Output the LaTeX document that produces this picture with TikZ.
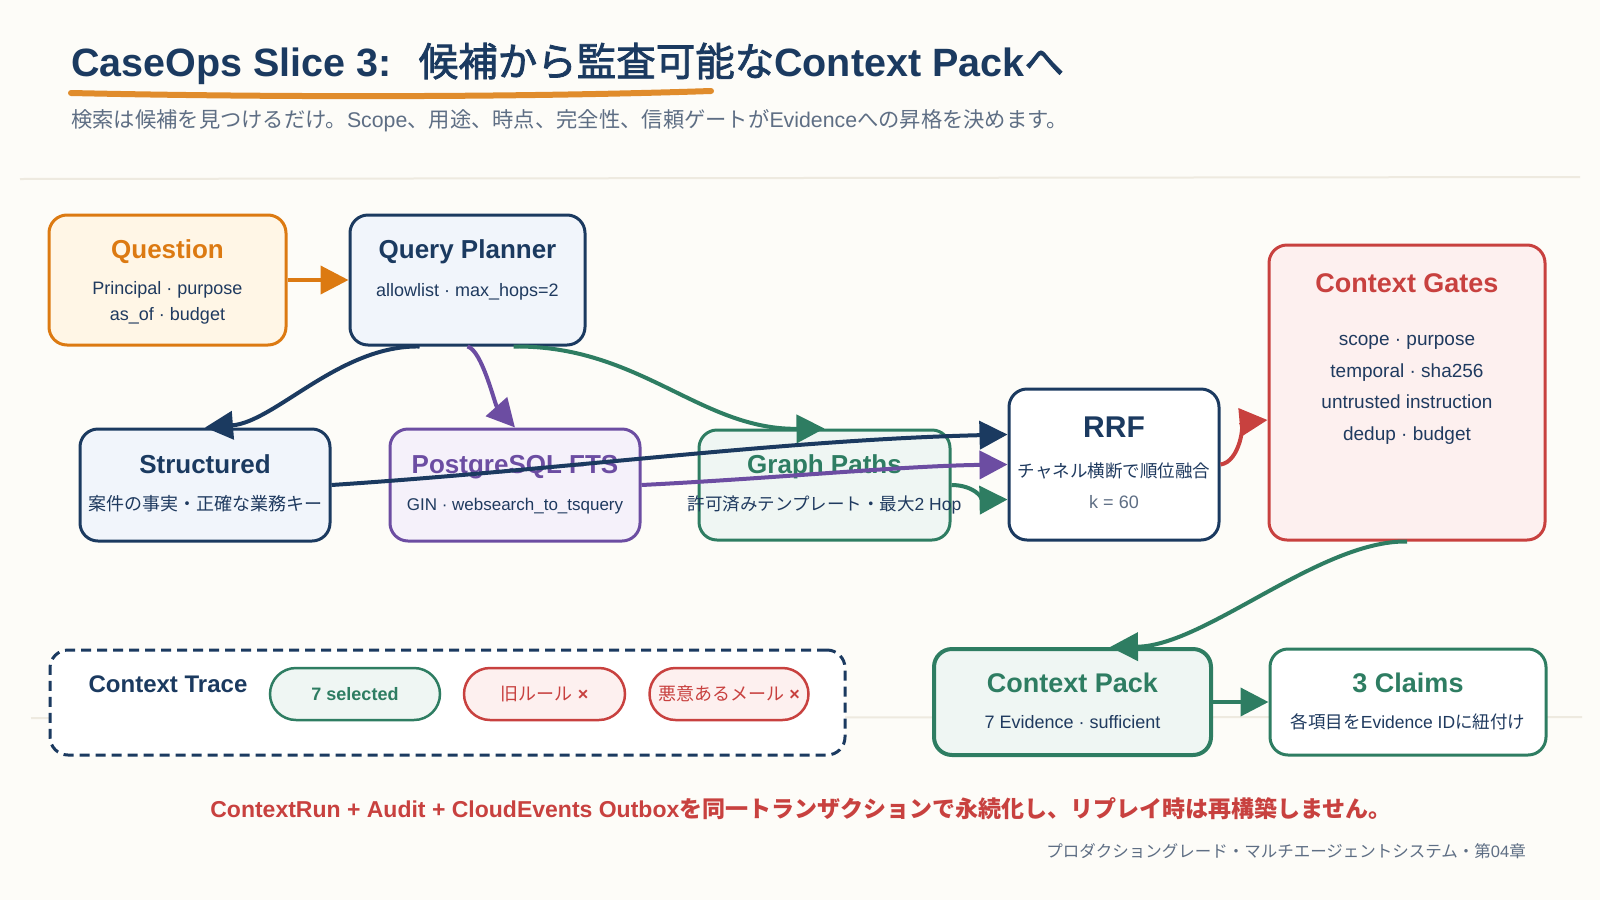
\documentclass[tikz,border=0pt]{standalone}
\usepackage{fontspec}
\setmainfont{Liberation Sans}
\newfontfamily\jp{Noto Sans CJK JP}
\newfontfamily\jpt[FakeBold=2]{Noto Sans CJK JP}
\newcommand\J[1]{{\jp #1}}
\newcommand\JT[1]{{\jpt\mdseries #1}}
\usetikzlibrary{arrows.meta,calc}
\definecolor{bg}{HTML}{FDFCF8}
\definecolor{navy}{HTML}{1B3A60}
\definecolor{ink}{HTML}{1F3A5F}
\definecolor{grayt}{HTML}{5E6E84}
\definecolor{orng}{HTML}{DC7A12}
\definecolor{orngbg}{HTML}{FFF6E6}
\definecolor{uline}{HTML}{E08C2C}
\definecolor{navybg}{HTML}{F1F5FB}
\definecolor{purp}{HTML}{6C4DA2}
\definecolor{purpbg}{HTML}{F5F1FA}
\definecolor{grn}{HTML}{2E7D62}
\definecolor{grnbg}{HTML}{EFF6F3}
\definecolor{red}{HTML}{C8413F}
\definecolor{redbg}{HTML}{FDF0EF}
\definecolor{rule}{HTML}{EEEAE0}
\begin{document}
\begin{tikzpicture}[x=1pt,y=-1pt,
  box/.style={rounded corners=18pt,line width=3pt,inner sep=0pt},
  pill/.style={rounded corners=26pt,line width=2.5pt,inner sep=0pt,minimum height=52pt},
  ttl/.style={font=\fontsize{26}{30}\selectfont\bfseries,anchor=base},
  subt/.style={font=\fontsize{18}{22}\selectfont,text=ink,anchor=base},
  gate/.style={font=\fontsize{19}{23}\selectfont,text=ink,anchor=base},
  arr/.style={line width=4pt,-{Triangle[length=28pt,width=28pt]}}]
\useasboundingbox (0,0) rectangle (1600,900);
\fill[bg] (0,0) rectangle (1600,900);
% rules
\draw[rule,line width=2pt] (20,179) -- (1580,177);
\draw[rule,line width=2pt] (31,718) -- (1582,717);
% title
\node[anchor=base west,inner sep=0pt,text=navy,font=\fontsize{39.5}{44}\selectfont\bfseries] (title) at (71,76)
  {CaseOps Slice 3:\hspace{27pt}\JT{候補から監査可能な}Context Pack\JT{へ}};
\draw[uline,line width=6pt,line cap=round] (71,93) .. controls (250,97) and (500,98) .. (711,91);
\node[anchor=base west,inner sep=0pt,text=grayt,font=\fontsize{21.3}{25}\selectfont] (subtitle) at (71,127)
  {\J{検索は候補を見つけるだけ。}Scope\J{、用途、時点、完全性、信頼ゲートが}Evidence\J{への昇格を決めます。}};
% boxes
\node[box,draw=orng,fill=orngbg,minimum width=237pt,minimum height=130pt] (q) at (167.5,280) {};
\node[box,draw=navy,fill=navybg,minimum width=235pt,minimum height=130pt] (qp) at (467.5,280) {};
\node[box,draw=navy,fill=navybg,minimum width=250pt,minimum height=112pt] (st) at (205,485) {};
\node[box,draw=purp,fill=purpbg,minimum width=250pt,minimum height=112pt] (fts) at (515,485) {};
\node[box,draw=grn,fill=grnbg,minimum width=251pt,minimum height=110pt] (gp) at (824.5,485) {};
\node[box,draw=navy,fill=white,minimum width=210pt,minimum height=151pt] (rrf) at (1114,464.5) {};
\node[box,draw=red,fill=redbg,minimum width=276pt,minimum height=295pt] (gates) at (1407,392.5) {};
\node[box,draw=grn,fill=grnbg,line width=4pt,minimum width=277pt,minimum height=106pt] (pack) at (1072.5,702) {};
\node[box,draw=grn,fill=white,minimum width=276pt,minimum height=106pt] (claims) at (1408,702) {};
\node[box,draw=navy,fill=white,dashed,dash pattern=on 10pt off 6pt,minimum width=795pt,minimum height=105pt] (trace) at (447.5,702.5) {};
% texts
\node[ttl,text=orng] (qt) at (167.5,258) {Question};
\node[subt] (qs1) at (167.5,294) {Principal · purpose};
\node[subt] (qs2) at (167.5,320) {as\_of · budget};
\node[ttl,text=navy] (qpt) at (467.5,258) {Query Planner};
\node[subt] (qps) at (467.5,296) {allowlist · max\_hops=2};
\node[ttl,text=navy] (stt) at (205,473) {Structured};
\node[subt] (sts) at (205,510) {\J{案件の事実・正確な業務キー}};
\node[ttl,text=purp] (ftst) at (515,473) {PostgreSQL FTS};
\node[subt,font=\fontsize{17}{21}\selectfont] (ftss) at (515,510) {GIN · websearch\_to\_tsquery};
\node[ttl,text=grn] (gpt) at (824.5,473) {Graph Paths};
\node[subt,font=\fontsize{17.5}{21}\selectfont] (gps) at (824.5,510) {\J{許可済みテンプレート・最大}2 Hop};
\node[ttl,text=navy,font=\fontsize{30}{34}\selectfont\bfseries] (rrft) at (1114,437) {RRF};
\node[subt,font=\fontsize{17.5}{21}\selectfont] (rrfs) at (1114,477) {\J{チャネル横断で順位融合}};
\node[subt,text=grayt] (rrfk) at (1114,508) {k = 60};
\node[ttl,text=red,font=\fontsize{27}{31}\selectfont\bfseries] (gt) at (1407,292) {Context Gates};
\node[gate] (g1) at (1407,345) {scope · purpose};
\node[gate] (g2) at (1407,377) {temporal · sha256};
\node[gate] (g3) at (1407,408) {untrusted instruction};
\node[gate] (g4) at (1407,440) {dedup · budget};
\node[ttl,text=grn,font=\fontsize{27}{31}\selectfont\bfseries] (pt) at (1072.5,692) {Context Pack};
\node[subt] (ps) at (1072.5,728) {7 Evidence · sufficient};
\node[ttl,text=grn,font=\fontsize{27}{31}\selectfont\bfseries] (ct) at (1408,692) {3 Claims};
\node[subt,font=\fontsize{17.5}{21}\selectfont] (cs) at (1408,728) {\J{各項目を}Evidence ID\J{に紐付け}};
\node[ttl,text=navy,font=\fontsize{24}{28}\selectfont\bfseries] (trt) at (168,692) {Context Trace};
\node[pill,draw=grn,fill=grnbg,minimum width=170pt,text=grn,font=\fontsize{18}{22}\selectfont\bfseries] (p1) at (355,694) {7 selected};
\node[pill,draw=red,fill=redbg,minimum width=161pt,text=red,font=\fontsize{18}{22}\selectfont] (p2) at (544.5,694) {\J{旧ルール} \textbf{×}};
\node[pill,draw=red,fill=redbg,minimum width=159pt,text=red,font=\fontsize{18}{22}\selectfont] (p3) at (729,694) {\J{悪意あるメール} \textbf{×}};
% bottom texts
\node[anchor=base,inner sep=0pt,text=red,font=\fontsize{23}{27}\selectfont\bfseries] (note) at (801,817)
  {ContextRun + Audit + CloudEvents Outbox\J{を同一トランザクションで永続化し、リプレイ時は再構築しません。}};
\node[anchor=base east,inner sep=0pt,text=grayt,font=\fontsize{16.5}{20}\selectfont] (foot) at (1526,857)
  {\J{プロダクショングレード・マルチエージェントシステム・第}04\J{章}};
% connectors
\draw[arr,orng] (q.east) -- (qp.west);
\draw[arr,navy] ($(qp.south)+(-48,0)$) .. controls (340,345) and (275,422) .. (st.north);
\draw[arr,purp] (qp.south) .. controls (482,350) and (495,405) .. (fts.north);
\draw[arr,grn] ($(qp.south)+(46,0)$) .. controls (640,345) and (700,430) .. (gp.north);
\draw[arr,navy] (st.east) .. controls (560,470) and (780,440) .. ($(rrf.west)+(0,-30)$);
\draw[arr,purp] (fts.east) .. controls (780,478) and (900,466) .. (rrf.west);
\draw[arr,grn] (gp.east) .. controls (975,485) and (985,500) .. ($(rrf.west)+(0,35)$);
\draw[arr,red] (rrf.east) .. controls (1240,462) and (1245,422) .. ($(gates.west)+(0,27.5)$);
\draw[arr,grn] (gates.south) .. controls (1320,540) and (1205,646) .. ($(pack.north)+(37.5,0)$);
\draw[arr,grn] (pack.east) -- (claims.west);
\end{tikzpicture}
\end{document}
